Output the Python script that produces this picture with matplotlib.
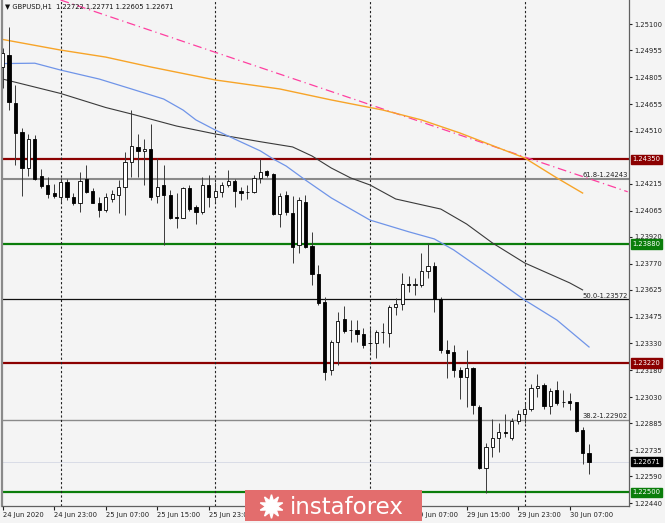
import matplotlib
matplotlib.use("Agg")
import matplotlib.pyplot as plt
import matplotlib.transforms as mtransforms
from matplotlib.patches import Rectangle
from matplotlib.lines import Line2D

# GBPUSD H1, 24 Jun 15:00 .. 30 Jun 10:00 (one entry per bar)
opens = [1.24863, 1.24930, 1.24663, 1.24504, 1.24300, 1.24463, 1.24259, 1.24208, 1.24162, 1.24143,
         1.24223, 1.24143, 1.24110, 1.24239, 1.24175, 1.24110, 1.24069, 1.24131, 1.24152, 1.24198,
         1.24334, 1.24420, 1.24396, 1.24406, 1.24147, 1.24208, 1.24152, 1.24032, 1.24026, 1.24189,
         1.24084, 1.24059, 1.24208, 1.24143, 1.24171, 1.24208, 1.24230, 1.24175, 1.24171, 1.24171,
         1.24245, 1.24285, 1.24267, 1.24047, 1.24152, 1.24054, 1.23875, 1.24115, 1.23869, 1.23714,
         1.23560, 1.23180, 1.23338, 1.23462, 1.23404, 1.23404, 1.23379, 1.23330, 1.23329, 1.23390,
         1.23388, 1.23532, 1.23545, 1.23656, 1.23654, 1.23652, 1.23730, 1.23758, 1.23575, 1.23292,
         1.23282, 1.23180, 1.23143, 1.23190, 1.22977, 1.22635, 1.22755, 1.22801, 1.22833, 1.22801,
         1.22899, 1.22936, 1.22962, 1.23079, 1.23097, 1.22981, 1.23069, 1.23004, 1.23008, 1.23000,
         1.22847, 1.22722]
highs = [1.24968, 1.25087, 1.24763, 1.24524, 1.24489, 1.24485, 1.24297, 1.24254, 1.24212, 1.24245,
         1.24239, 1.24162, 1.24282, 1.24319, 1.24189, 1.24143, 1.24162, 1.24180, 1.24235, 1.24393,
         1.24624, 1.24489, 1.24463, 1.24546, 1.24356, 1.24319, 1.24180, 1.24162, 1.24198, 1.24208,
         1.24097, 1.24254, 1.24263, 1.24226, 1.24226, 1.24291, 1.24239, 1.24198, 1.24208, 1.24263,
         1.24350, 1.24291, 1.24273, 1.24162, 1.24176, 1.24148, 1.24143, 1.24152, 1.23948, 1.23764,
         1.23587, 1.23347, 1.23504, 1.23536, 1.23458, 1.23458, 1.23412, 1.23412, 1.23402, 1.23440,
         1.23541, 1.23578, 1.23717, 1.23702, 1.23690, 1.23828, 1.23884, 1.23782, 1.23587, 1.23347,
         1.23319, 1.23199, 1.23292, 1.23195, 1.22986, 1.22777, 1.22907, 1.22888, 1.22936, 1.22912,
         1.22958, 1.22995, 1.23103, 1.23158, 1.23110, 1.23079, 1.23121, 1.23069, 1.23054, 1.23004,
         1.22862, 1.22771]
lows = [1.24746, 1.24624, 1.24317, 1.24147, 1.24258, 1.24236, 1.24189, 1.24134, 1.24134, 1.24115,
        1.24124, 1.24097, 1.24059, 1.24162, 1.24106, 1.24028, 1.24059, 1.24115, 1.24051, 1.24041,
        1.24254, 1.24254, 1.24208, 1.24124, 1.24106, 1.23875, 1.24017, 1.23967, 1.24023, 1.24065,
        1.23991, 1.24047, 1.24087, 1.24115, 1.24139, 1.24198, 1.24084, 1.24124, 1.24128, 1.24165,
        1.24217, 1.24254, 1.24041, 1.23976, 1.24041, 1.23776, 1.23830, 1.23856, 1.23652, 1.23541,
        1.23125, 1.23153, 1.23208, 1.23388, 1.23338, 1.23338, 1.23301, 1.23282, 1.23245, 1.23329,
        1.23310, 1.23486, 1.23514, 1.23615, 1.23597, 1.23643, 1.23690, 1.23504, 1.23273, 1.23134,
        1.23143, 1.23018, 1.22977, 1.22936, 1.22629, 1.22496, 1.22699, 1.22727, 1.22810, 1.22792,
        1.22881, 1.22884, 1.22955, 1.23032, 1.22962, 1.22936, 1.22986, 1.22977, 1.22958, 1.22838,
        1.22658, 1.22605]
closes = [1.24941, 1.24670, 1.24498, 1.24304, 1.24463, 1.24239, 1.24204, 1.24158, 1.24147, 1.24226,
          1.24143, 1.24106, 1.24232, 1.24170, 1.24110, 1.24069, 1.24139, 1.24160, 1.24198, 1.24334,
          1.24426, 1.24398, 1.24406, 1.24143, 1.24198, 1.24152, 1.24023, 1.24023, 1.24189, 1.24073,
          1.24059, 1.24208, 1.24139, 1.24176, 1.24208, 1.24232, 1.24175, 1.24165, 1.24168, 1.24248,
          1.24282, 1.24263, 1.24047, 1.24148, 1.24059, 1.23865, 1.24124, 1.23865, 1.23714, 1.23554,
          1.23171, 1.23338, 1.23454, 1.23399, 1.23401, 1.23379, 1.23319, 1.23328, 1.23393, 1.23389,
          1.23532, 1.23545, 1.23656, 1.23654, 1.23656, 1.23730, 1.23760, 1.23575, 1.23292, 1.23276,
          1.23180, 1.23143, 1.23190, 1.22986, 1.22635, 1.22755, 1.22801, 1.22835, 1.22832, 1.22899,
          1.22936, 1.22962, 1.23079, 1.23092, 1.22981, 1.23064, 1.22999, 1.23003, 1.22999, 1.22843,
          1.22718, 1.22671]

# moving averages, read at selected bars
ma_orange_bars = [0, 9, 16, 23, 33, 43, 51, 59, 65, 71, 77, 81, 86, 90]
ma_orange = [1.25016, 1.24957, 1.24918, 1.24863, 1.24791, 1.24741, 1.24680, 1.24624,
             1.24569, 1.24496, 1.24413, 1.24358, 1.24247, 1.24163]
ma_black_bars = [0, 9, 16, 20, 27, 33, 40, 45, 48, 51, 54, 57, 61, 68, 72, 76, 81, 88, 90]
ma_black = [1.24796, 1.24716, 1.24638, 1.24602, 1.24535, 1.24491, 1.24448, 1.24419, 1.24369,
            1.24302, 1.24247, 1.24208, 1.24130, 1.24074, 1.23991, 1.23886, 1.23775, 1.23664, 1.23625]
ma_blue_bars = [0, 5, 9, 15, 20, 25, 28, 30, 33, 36, 40, 42, 44, 47, 51, 57, 63, 67, 70, 76, 81, 86, 91]
ma_blue = [1.24882, 1.24884, 1.24846, 1.24796, 1.24741, 1.24685, 1.24624, 1.24569, 1.24513,
           1.24463, 1.24397, 1.24352, 1.24313, 1.24235, 1.24136, 1.24013, 1.23948, 1.23908,
           1.23847, 1.23697, 1.23569, 1.23458, 1.23308]

trend_bars = [9, 97]
trend_prices = [1.25235, 1.24170]

red_levels = [1.24350, 1.23220]
green_levels = [1.23880, 1.22500]
fib_levels = [1.24243, 1.23572, 1.22902]
fib_names = ["61.8", "50.0", "38.2"]
last_price = 1.22671

separators = [9, 33, 57, 81]
# labels at bars 40, 48, 56 are hidden under the watermark in the source
time_ticks = [0, 8, 16, 24, 32, 64, 72, 80, 88]
time_labels = ["24 Jun 2020", "24 Jun 23:00", "25 Jun 07:00", "25 Jun 15:00", "25 Jun 23:00",
               "29 Jun 07:00", "29 Jun 15:00", "29 Jun 23:00", "30 Jun 07:00"]
price_ticks = [1.25100, 1.24955, 1.24805, 1.24655, 1.24510, 1.24215, 1.24065, 1.23920, 1.23770,
               1.23625, 1.23475, 1.23330, 1.23180, 1.23030, 1.22885, 1.22735, 1.22590, 1.22440]

BG = "#f4f4f4"
FS = 4.9
plt.rcParams["font.family"] = ["DejaVu Sans"]

fig = plt.figure(figsize=(6.65, 5.23), dpi=100)
fig.patch.set_facecolor(BG)
ax = fig.add_axes([2 / 665, 17 / 523, 627 / 665, 506 / 523])
ax.set_facecolor(BG)
ax.set_xlim(-0.09, 97.2)
ax.set_ylim(1.22425, 1.25235)

# horizontal levels
for lv in red_levels:
    ax.axhline(lv, color="#8b0000", lw=1.6, zorder=1)
for lv in green_levels:
    ax.axhline(lv, color="#0a7d0a", lw=1.6, zorder=1)
ax.axhline(fib_levels[0], color="#8a8a8a", lw=1.5, zorder=1)
ax.axhline(fib_levels[1], color="#111111", lw=0.9, zorder=1)
ax.axhline(fib_levels[2], color="#8a8a8a", lw=1.0, zorder=1)
ax.axhline(last_price, color="#d4d8e4", lw=0.6, zorder=1)
for lv, nm in zip(fib_levels, fib_names):
    ax.text(97.0, lv + 0.00004, f"{nm}-{lv:.5f}", ha="right", va="bottom",
            fontsize=FS, color="#202020", zorder=5)

for s in separators:
    ax.axvline(s, color="#222222", lw=0.8, ls=(0, (2, 2)), zorder=1)

ax.plot(trend_bars, trend_prices, color="#ff3fa0", lw=0.9, ls=(0, (7, 3, 1, 3)), zorder=2)
ax.plot(ma_orange_bars, ma_orange, color="#f7a428", lw=1.0, zorder=2)
ax.plot(ma_black_bars, ma_black, color="#3a3a3a", lw=0.8, zorder=2)
ax.plot(ma_blue_bars, ma_blue, color="#6f94e8", lw=0.9, zorder=2)

# candles
w = 0.5
for i, (o, h, l, c) in enumerate(zip(opens, highs, lows, closes)):
    ax.vlines(i, l, h, color="#3a3a3a", lw=0.7, zorder=3)
    lo, hi = min(o, c), max(o, c)
    fc = "white" if c >= o else "black"
    ax.add_patch(Rectangle((i - w / 2, lo), w, max(hi - lo, 0.000015),
                           facecolor=fc, edgecolor="black", lw=0.6, zorder=4))

# axes styling
ax.spines["top"].set_visible(False)
ax.spines["left"].set_color("#8a8a8a")
ax.spines["left"].set_linewidth(1.6)
ax.spines["right"].set_color("#606060")
ax.spines["bottom"].set_color("#606060")
ax.spines["right"].set_linewidth(0.9)
ax.spines["bottom"].set_linewidth(0.9)

ax.yaxis.tick_right()
ax.set_yticks(price_ticks)
ax.set_yticklabels([f"{p:.5f}" for p in price_ticks])
ax.tick_params(axis="y", length=2.5, width=0.8, labelsize=FS, pad=1.5, colors="#202020")
ax.set_xticks(time_ticks)
ax.set_xticklabels(time_labels, ha="left")
ax.tick_params(axis="x", length=3, width=0.8, labelsize=FS, pad=1.5, colors="#202020")

# highlighted price labels on the axis
trans = mtransforms.blended_transform_factory(ax.transAxes, ax.transData)
for lv, col in [(1.24350, "#8b0000"), (1.23880, "#0a7d0a"), (1.23220, "#8b0000"),
                (last_price, "#000000"), (1.22500, "#0a7d0a")]:
    ax.text(1.006, lv, f"{lv:.5f}", transform=trans, ha="left", va="center",
            fontsize=FS, color="white", zorder=6, clip_on=False,
            bbox=dict(boxstyle="square,pad=0.25", fc=col, ec=col))

# title
ax.text(0.005, 0.992, "\u25bc GBPUSD,H1  1.22722 1.22771 1.22605 1.22671", transform=ax.transAxes,
        ha="left", va="top", fontsize=FS, color="#111111", zorder=6)

# watermark
fig.patches.append(Rectangle((245 / 665, 2 / 523), 177 / 665, 31 / 523, transform=fig.transFigure,
                             facecolor="#e36d6d", edgecolor="none", zorder=10))
fig.add_artist(Line2D([271 / 665], [17 / 523], transform=fig.transFigure, marker=(10, 1, 0),
                      markersize=17, color="white", markeredgecolor="white", zorder=11))
fig.text(347 / 665, 16 / 523, "instaforex", ha="center", va="center", fontsize=16.5,
         color="white", zorder=11)

fig.savefig("out.png", dpi=100, facecolor=BG)
